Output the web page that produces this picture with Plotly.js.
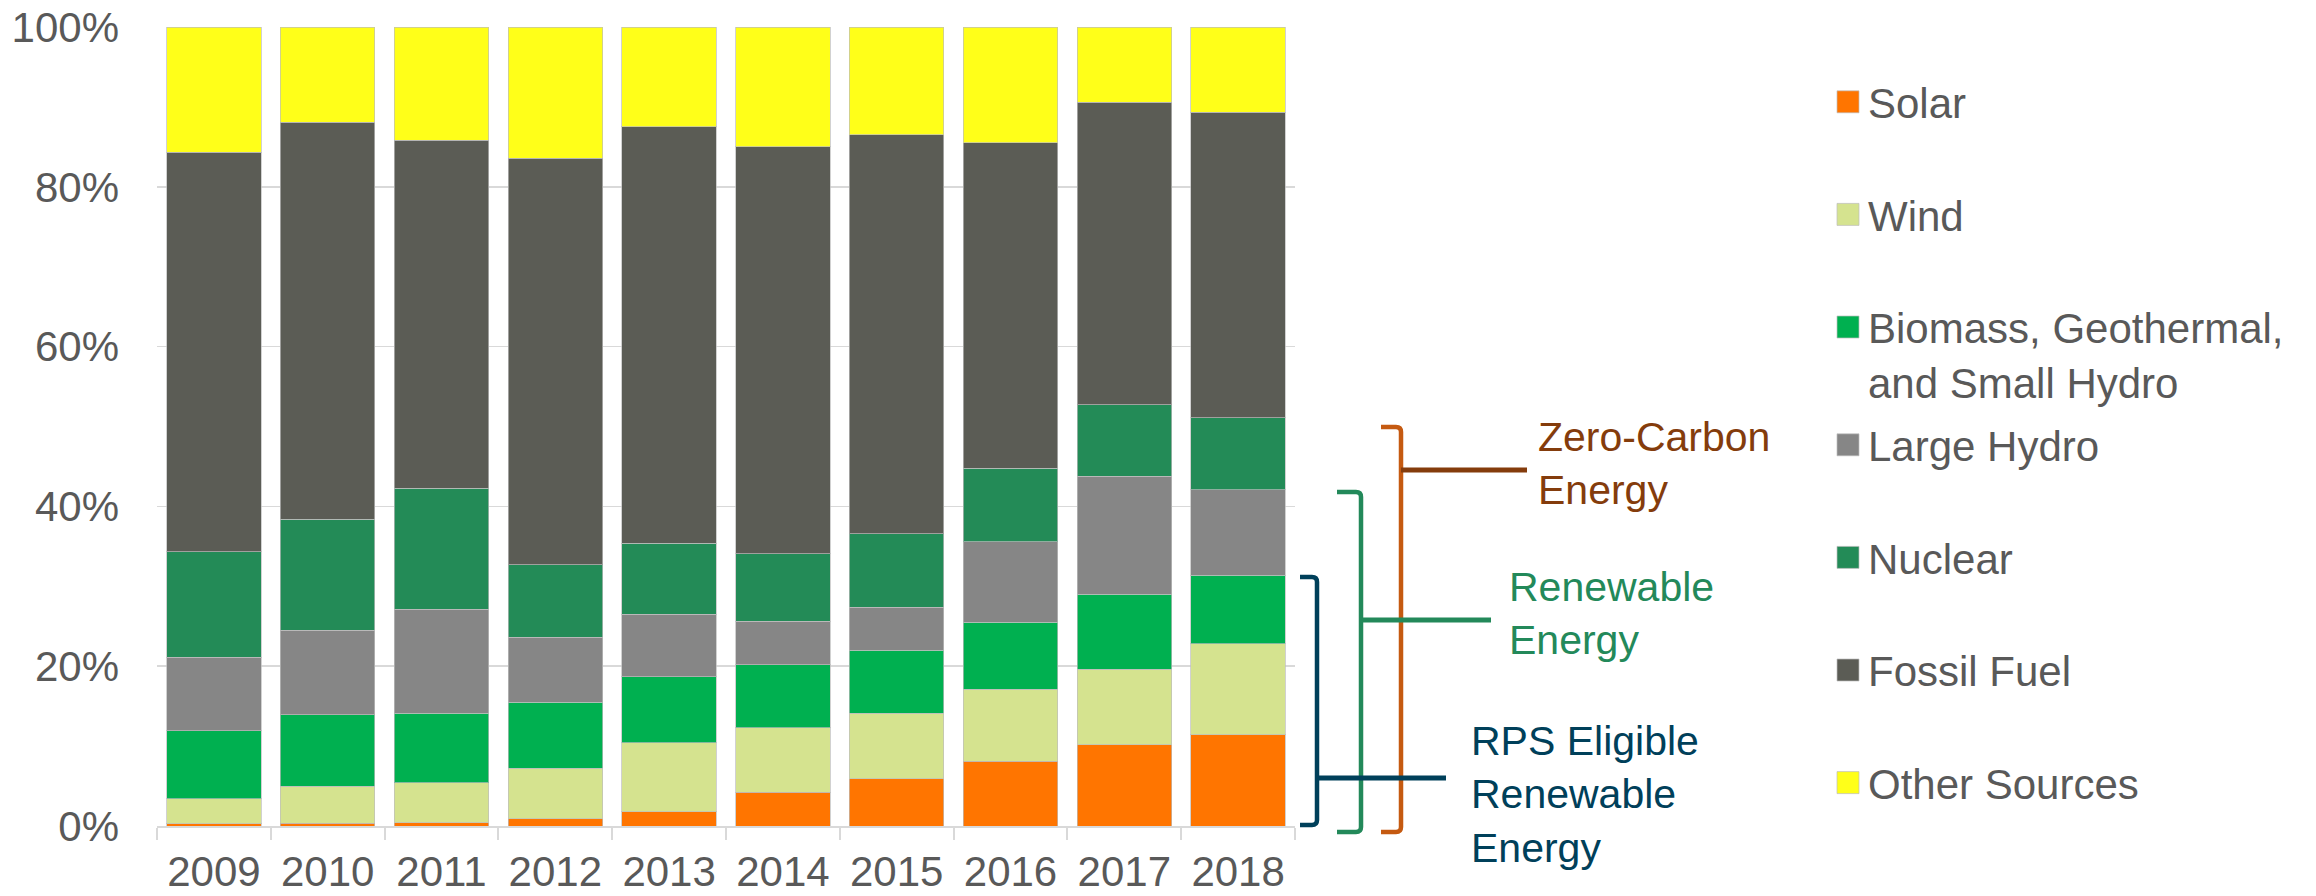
<!DOCTYPE html>
<html>
<head>
<meta charset="utf-8">
<script src="https://cdn.plot.ly/plotly-3.0.1.min.js"></script>
<style>
  html, body { margin: 0; padding: 0; background: #ffffff; }
  #chart { width: 2316px; height: 896px; }
</style>
</head>
<body>
<div id="chart"></div>
<script>
// ---------- data (percent of total) ----------
const years = ['2009','2010','2011','2012','2013','2014','2015','2016','2017','2018'];
const solar      = [0.3, 0.35, 0.4, 0.9, 1.8, 4.2, 5.9, 8.1, 10.2, 11.4];
const wind       = [3.1, 4.65, 5.0, 6.3, 8.6, 8.1, 8.2, 9.0, 9.4, 11.4];
const biomass    = [8.5, 8.9, 8.7, 8.3, 8.3, 7.9, 7.9, 8.4, 9.4, 8.6];
const largeHydro = [9.2, 10.6, 13.0, 8.1, 7.8, 5.4, 5.4, 10.1, 14.8, 10.7];
const nuclear    = [13.2, 13.9, 15.2, 9.1, 8.9, 8.5, 9.2, 9.2, 8.9, 9.0];
const fossil     = [50.0, 49.7, 43.5, 50.9, 52.1, 50.9, 49.9, 40.7, 37.9, 38.2];
const other      = [15.7, 11.9, 14.2, 16.4, 12.5, 15.0, 13.5, 14.5, 9.4, 10.7];

const seriesNames = ['Solar', 'Wind', 'Biomass, Geothermal,<br>and Small Hydro', 'Large Hydro', 'Nuclear', 'Fossil Fuel', 'Other Sources'];
const seriesValues = [solar, wind, biomass, largeHydro, nuclear, fossil, other];
const seriesColors = ['#ff7500', '#d5e38f', '#00b050', '#868686', '#238b57', '#5b5c55', '#ffff19'];
const seriesLegend = ['legend', 'legend', 'legend', 'legend2', 'legend2', 'legend2', 'legend2'];

const groupLabels = ['Zero-Carbon<br>Energy', 'Renewable<br>Energy', 'RPS Eligible<br>Renewable<br>Energy'];

// ---------- layout helpers (pixel -> paper) ----------
const W = 2316, H = 896;
const M = { l: 157, r: 1021, t: 27, b: 70 };
const PW = W - M.l - M.r, PH = H - M.t - M.b;
const X = px => (px - M.l) / PW;
const Y = py => (H - M.b - py) / PH;

const FONT = 'Liberation Sans, Arial, sans-serif';

const traces = seriesValues.map((vals, i) => ({
  type: 'bar',
  name: seriesNames[i],
  x: years,
  y: vals,
  marker: { color: seriesColors[i], line: { color: 'rgba(190,190,190,0.7)', width: 1 } },
  legend: seriesLegend[i],
  legendgroup: 'g' + i,
  hoverinfo: 'skip'
}));

function bracketPath(xv, xs, top, bot) {
  const r = 5;
  return `M ${X(xs)},${Y(top)} L ${X(xv - r)},${Y(top)} Q ${X(xv)},${Y(top)} ${X(xv)},${Y(top + r)} ` +
         `L ${X(xv)},${Y(bot - r)} Q ${X(xv)},${Y(bot)} ${X(xv - r)},${Y(bot)} L ${X(xs)},${Y(bot)}`;
}
function bracket(xv, xs, top, bot, color) {
  return { type: 'path', xref: 'paper', yref: 'paper', path: bracketPath(xv, xs, top, bot),
           line: { color: color, width: 4.5 } };
}
function connector(x0, x1, y, color) {
  return { type: 'line', xref: 'paper', yref: 'paper', x0: X(x0), x1: X(x1), y0: Y(y), y1: Y(y),
           line: { color: color, width: 5 } };
}

const cOrange = '#c55a11', cBrown = '#843c0c', cGreen = '#23895a', cBlue = '#00405a';

const shapes = [
  bracket(1401, 1381, 427, 832, cOrange),
  connector(1401, 1527, 470, cBrown),
  bracket(1361, 1337, 492, 832, cGreen),
  connector(1362, 1491, 620, cGreen),
  bracket(1317, 1300, 577, 825, cBlue),
  connector(1318, 1446, 778, cBlue)
];

const annotations = [
  { text: groupLabels[0], x: X(1536), y: Y(463), color: cBrown },
  { text: groupLabels[1], x: X(1507), y: Y(614), color: cGreen },
  { text: groupLabels[2], x: X(1469), y: Y(794), color: cBlue }
].map(a => ({
  text: a.text, xref: 'paper', yref: 'paper', x: a.x, y: a.y,
  xanchor: 'left', yanchor: 'middle', align: 'left', showarrow: false,
  font: { family: FONT, size: 41, color: a.color }
}));

const legendCommon = {
  orientation: 'v', xanchor: 'left', yanchor: 'top',
  font: { family: FONT, size: 42, color: '#595959' },
  bgcolor: 'rgba(0,0,0,0)', borderwidth: 0,
  tracegroupgap: 55, valign: 'top', traceorder: 'grouped',
  itemclick: false, itemdoubleclick: false
};

const layout = {
  width: W, height: H,
  margin: M,
  paper_bgcolor: '#ffffff', plot_bgcolor: '#ffffff',
  barmode: 'stack', barnorm: 'percent', bargap: 0.17,
  font: { family: FONT, size: 42, color: '#595959' },
  xaxis: {
    type: 'category', tickson: 'boundaries', ticks: 'outside', ticklen: 12,
    tickwidth: 2, tickcolor: '#d9d9d9', showline: true, linecolor: '#d9d9d9', linewidth: 2,
    showgrid: false, ticklabelstandoff: 8,
    tickfont: { family: FONT, size: 42, color: '#595959' }
  },
  yaxis: {
    range: [0, 100], dtick: 20, ticksuffix: '%', showgrid: true, gridcolor: '#d9d9d9',
    gridwidth: 1.5, zeroline: false, showline: false, ticks: '',
    ticklabelstandoff: 37,
    tickfont: { family: FONT, size: 42, color: '#595959' }
  },
  showlegend: true,
  legend: Object.assign({}, legendCommon, { x: X(1828), y: Y(68) }),
  legend2: Object.assign({}, legendCommon, { x: X(1828), y: Y(411) }),
  shapes: shapes,
  annotations: annotations
};

Plotly.newPlot('chart', traces, layout, { staticPlot: true, displayModeBar: false }).then(gd => {
  gd.querySelectorAll('g.legendpoints path').forEach(p => p.setAttribute('d', 'M11,11H-11V-11H11Z'));
});
</script>
</body>
</html>
